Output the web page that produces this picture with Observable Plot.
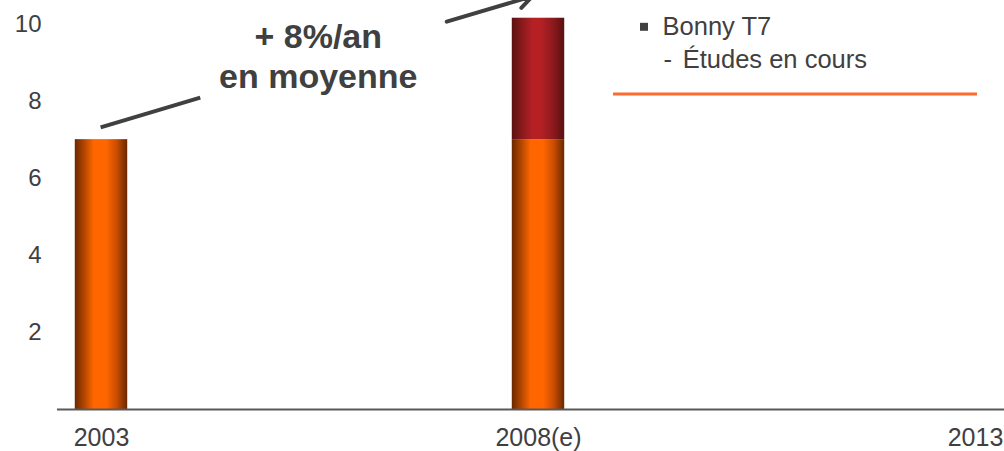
<!DOCTYPE html>
<html>
<head>
<meta charset="utf-8">
<script src="https://cdn.jsdelivr.net/npm/d3@7"></script>
<script src="https://cdn.jsdelivr.net/npm/@observablehq/plot@0.6"></script>
<style>
  html, body { margin: 0; padding: 0; background: #fff; overflow: hidden; }
  #chart svg { display: block; }
</style>
</head>
<body>
<div id="chart"></div>
<script>
// ---- data ----
const years = [2003, 2008];
const baseValues = [7.0, 7.0];
const extensionValues = [0, 3.15];
const tickYears = [2003, 2008, 2013];
const tickLabels = ["2003", "2008(e)", "2013"];
const yTicks = [2, 4, 6, 8, 10];
const annotLines = ["+ 8%/an", "en moyenne"];
const noteTitle = "Bonny T7";
const noteItem = "Études en cours";

// ---- build table ----
const rects = [];
years.forEach((yr, i) => {
  rects.push({year: yr, series: "base", y1: 0, y2: baseValues[i]});
  if (extensionValues[i] > 0)
    rects.push({year: yr, series: "ext", y1: baseValues[i], y2: baseValues[i] + extensionValues[i]});
});
const gradFor = {base: "url(#gradOrange)", ext: "url(#gradRed)"};
const halfBar = 0.3;

const textColor = "#404040";
const font = "Liberation Sans, Arial, Helvetica, sans-serif";

function defsMark() {
  const ns = "http://www.w3.org/2000/svg";
  const defs = document.createElementNS(ns, "defs");
  const mk = (id, stops) => {
    const g = document.createElementNS(ns, "linearGradient");
    g.setAttribute("id", id);
    g.setAttribute("x1", "0"); g.setAttribute("x2", "1");
    g.setAttribute("y1", "0"); g.setAttribute("y2", "0");
    for (const [o, c] of stops) {
      const s = document.createElementNS(ns, "stop");
      s.setAttribute("offset", o);
      s.setAttribute("stop-color", c);
      g.appendChild(s);
    }
    defs.appendChild(g);
  };
  mk("gradOrange", [[0, "#6a2800"], [0.18, "#b24600"], [0.36, "#ff6600"], [0.6, "#ff6600"], [0.8, "#c94d00"], [1, "#6a2800"]]);
  mk("gradRed", [[0, "#5a1212"], [0.2, "#8a1a1c"], [0.4, "#b52025"], [0.55, "#b52025"], [0.78, "#8e1a1d"], [1, "#5a1010"]]);
  return defs;
}

const chart = Plot.plot({
  width: 1004,
  height: 451,
  marginLeft: 57,
  marginRight: 0,
  marginTop: 0,
  marginBottom: 42,
  style: {fontFamily: font, color: textColor, background: "white"},
  x: {type: "linear", domain: [2003, 2013], range: [101, 975]},
  y: {domain: [0, 10], range: [409, 23.5]},
  color: {type: "identity"},
  marks: [
    defsMark,
    Plot.rectY(rects, {
      x1: d => d.year - halfBar,
      x2: d => d.year + halfBar,
      y1: "y1",
      y2: "y2",
      fill: d => gradFor[d.series]
    }),
    Plot.ruleY([0], {stroke: "#595959", strokeWidth: 2}),
    Plot.axisY({ticks: yTicks, tickSize: 0, tickPadding: 16, fontSize: 24, label: null, fill: textColor}),
    Plot.axisX({ticks: tickYears, tickFormat: d => tickLabels[tickYears.indexOf(d)], tickSize: 0, tickPadding: 19, fontSize: 25, label: null, fill: textColor}),
    // annotation lines
    Plot.link([{x1: 2002.99, y1: 7.32, x2: 2004.13, y2: 8.09}], {
      x1: "x1", y1: "y1", x2: "x2", y2: "y2", stroke: textColor, strokeWidth: 4
    }),
    Plot.arrow([{x1: 2006.95, y1: 10.06, x2: 2007.93, y2: 10.72}], {
      x1: "x1", y1: "y1", x2: "x2", y2: "y2", stroke: textColor, strokeWidth: 4, headLength: 6
    }),
    Plot.text(annotLines, {
      x: () => 2005.48,
      y: (d, i) => [9.65, 8.61][i],
      text: d => d,
      fontSize: 34, fontWeight: "bold", fill: textColor
    }),
    // side note
    Plot.dot([noteTitle], {x: () => 2009.207, y: () => 9.927, symbol: "square", r: 4.5, fill: textColor}),
    Plot.text([noteTitle], {x: () => 2009.419, y: () => 9.914, text: d => d, textAnchor: "start", fontSize: 25.5, fill: textColor}),
    Plot.text(["-"], {x: () => 2009.43, y: () => 9.058, text: d => d, textAnchor: "start", fontSize: 25.5, fill: textColor}),
    Plot.text([noteItem], {x: () => 2009.65, y: () => 9.058, text: d => d, textAnchor: "start", fontSize: 25.5, fill: textColor}),
    Plot.ruleY([8.184], {x1: 2008.858, x2: 2013.023, stroke: "#ff6a30", strokeWidth: 3})
  ]
});
document.getElementById("chart").appendChild(chart);
</script>
</body>
</html>
